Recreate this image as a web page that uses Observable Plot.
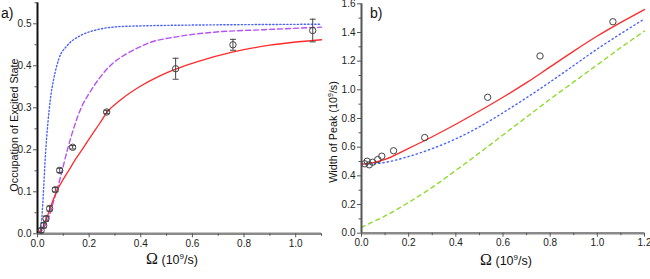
<!DOCTYPE html>
<html>
<head>
<meta charset="utf-8">
<script src="https://cdn.jsdelivr.net/npm/d3@7"></script>
<script src="https://cdn.jsdelivr.net/npm/@observablehq/plot@0.6"></script>
<style>
  html, body { margin: 0; padding: 0; background: #fff; }
  #wrap { display: flex; width: 650px; height: 279px; }
  svg { display: block; }
</style>
</head>
<body>
<div id="wrap"></div>
<script>
// ---- measured points (Omega in 10^9/s) ----
const omega       = [0.014, 0.024, 0.033, 0.047, 0.069, 0.086, 0.136, 0.268, 0.535, 0.757, 1.066];
const occupation  = [0.008, 0.020, 0.036, 0.060, 0.105, 0.151, 0.206, 0.290, 0.393, 0.450, 0.484];
const occErr      = [0.005, 0.006, 0.006, 0.006, 0.005, 0.005, 0.004, 0.004, 0.025, 0.013, 0.027];
const peakWidth   = [0.484, 0.502, 0.477, 0.495, 0.514, 0.537, 0.575, 0.667, 0.948, 1.236, 1.475];

// ---- panel a curves ----
const aRedX    = [0, 0.02, 0.04, 0.06, 0.08, 0.10, 0.12, 0.15, 0.18, 0.21, 0.24, 0.27, 0.32, 0.40, 0.47, 0.535, 0.62, 0.75, 0.90, 1.10];
const aRedY    = [0, 0.015, 0.045, 0.080, 0.108, 0.130, 0.150, 0.180, 0.207, 0.235, 0.262, 0.290, 0.318, 0.352, 0.375, 0.392, 0.410, 0.432, 0.449, 0.462];
const aPurpleX = [0.005, 0.018, 0.044, 0.063, 0.089, 0.115, 0.147, 0.173, 0.199, 0.238, 0.29, 0.335, 0.386, 0.438, 0.528, 0.683, 0.877, 1.10];
const aPurpleY = [0, 0.008, 0.040, 0.079, 0.135, 0.198, 0.264, 0.305, 0.333, 0.369, 0.405, 0.425, 0.442, 0.456, 0.468, 0.480, 0.486, 0.492];
const aBlueX   = [0.009, 0.018, 0.024, 0.031, 0.040, 0.050, 0.063, 0.083, 0.115, 0.167, 0.231, 0.309, 0.40, 0.60, 0.80, 1.10];
const aBlueY   = [0, 0.048, 0.111, 0.190, 0.262, 0.321, 0.369, 0.417, 0.448, 0.472, 0.486, 0.493, 0.495, 0.497, 0.498, 0.499];

// ---- panel b curves ----
const bCurveX = [0, 0.05, 0.1, 0.2, 0.3, 0.4, 0.5, 0.6, 0.7, 0.8, 0.9, 1.0, 1.1, 1.2];
const bRedY   = [0.480, 0.492, 0.515, 0.592, 0.673, 0.760, 0.852, 0.948, 1.050, 1.160, 1.270, 1.375, 1.470, 1.560];
const bBlueY  = [0.485, 0.484, 0.494, 0.535, 0.590, 0.658, 0.742, 0.840, 0.945, 1.055, 1.170, 1.285, 1.392, 1.495];
const bGreenY = [0.040, 0.080, 0.120, 0.215, 0.320, 0.438, 0.560, 0.685, 0.810, 0.935, 1.055, 1.175, 1.295, 1.410];

// ---- tick labels ----
const aXTicks = [0, 0.2, 0.4, 0.6, 0.8, 1.0];
const aXMinor = [0.1, 0.3, 0.5, 0.7, 0.9, 1.1];
const aYTicks = [0, 0.1, 0.2, 0.3, 0.4, 0.5];
const aYMinor = [0.05, 0.15, 0.25, 0.35, 0.45, 0.55];
const bXTicks = [0, 0.2, 0.4, 0.6, 0.8, 1.0, 1.2];
const bXMinor = [0.1, 0.3, 0.5, 0.7, 0.9, 1.1];
const bYTicks = [0, 0.2, 0.4, 0.6, 0.8, 1.0, 1.2, 1.4, 1.6];
const bYMinor = [0.1, 0.3, 0.5, 0.7, 0.9, 1.1, 1.3, 1.5];

const pts = (xs, ys) => xs.map((x, i) => ({x, y: ys[i]}));
const fmt = d3.format(".1f");
const blank = () => "";

const capSymbol = {
  draw(context, size) {
    const w = Math.sqrt(size / Math.PI);
    context.moveTo(-w, 0);
    context.lineTo(w, 0);
  }
};

const font = "'Liberation Sans', Arial, sans-serif";
const tickCol = "#555";

function axes(xT, xM, yT, yM, yLineColor) {
  return [
    Plot.ruleY([0], {stroke: "#8a8a8a", strokeWidth: 2.4}),
    Plot.ruleX([0], {stroke: yLineColor, strokeWidth: 2}),
    Plot.axisX({ticks: xT, tickSize: 4, tickPadding: 2, tickFormat: fmt, label: null, stroke: tickCol, fill: "#222"}),
    Plot.axisX({ticks: xM, tickSize: 2.5, tickFormat: blank, label: null, stroke: tickCol}),
    Plot.axisY({ticks: yT, tickSize: 4, tickPadding: 2, tickFormat: fmt, label: null, stroke: tickCol, fill: "#222"}),
    Plot.axisY({ticks: yM, tickSize: 2.5, tickFormat: blank, label: null, stroke: tickCol})
  ];
}

const pointData = omega.map((x, i) => ({x, y: occupation[i], lo: occupation[i] - occErr[i], hi: occupation[i] + occErr[i]}));
const widthData = omega.map((x, i) => ({x, y: peakWidth[i]}));

const plotA = Plot.plot({
  width: 325, height: 279,
  marginLeft: 37, marginRight: 4, marginTop: 2.3, marginBottom: 45.7,
  x: {domain: [0, 1.1]},
  y: {domain: [0, 0.55]},
  style: {fontFamily: font, fontSize: "10px", background: "white", overflow: "visible"},
  marks: [
    Plot.line(pts(aBlueX, aBlueY), {x: "x", y: "y", stroke: "#4a63ff", strokeWidth: 1.4, strokeDasharray: "1.3,2.2", curve: "monotone-x"}),
    Plot.line(pts(aPurpleX, aPurpleY), {x: "x", y: "y", stroke: "#b552f5", strokeWidth: 1.4, strokeDasharray: "5,3", curve: "monotone-x"}),
    Plot.line(pts(aRedX, aRedY), {x: "x", y: "y", stroke: "#ff2a2a", strokeWidth: 1.3, curve: "monotone-x"}),
    ...axes(aXTicks, aXMinor, aYTicks, aYMinor, "#111"),
    Plot.ruleX(pointData, {x: "x", y1: "lo", y2: "hi", stroke: "#444", strokeWidth: 1}),
    Plot.dot(pointData, {x: "x", y: "lo", symbol: capSymbol, r: 3, stroke: "#444", strokeWidth: 1}),
    Plot.dot(pointData, {x: "x", y: "hi", symbol: capSymbol, r: 3, stroke: "#444", strokeWidth: 1}),
    Plot.dot(pointData, {x: "x", y: "y", r: 3.2, stroke: "#444", strokeWidth: 1, fill: "none"})
  ]
});

const plotB = Plot.plot({
  width: 325, height: 279,
  marginLeft: 36, marginRight: 6, marginTop: 3.3, marginBottom: 46.3,
  x: {domain: [0, 1.2]},
  y: {domain: [0, 1.6]},
  style: {fontFamily: font, fontSize: "10px", background: "white", overflow: "visible"},
  marks: [
    Plot.line(pts(bCurveX, bGreenY), {x: "x", y: "y", stroke: "#8fdc2c", strokeWidth: 1.4, strokeDasharray: "4,4", curve: "monotone-x"}),
    Plot.line(pts(bCurveX, bBlueY), {x: "x", y: "y", stroke: "#4a63ff", strokeWidth: 1.4, strokeDasharray: "1.3,3", curve: "monotone-x"}),
    Plot.line(pts(bCurveX, bRedY), {x: "x", y: "y", stroke: "#ff2a2a", strokeWidth: 1.3, curve: "monotone-x"}),
    ...axes(bXTicks, bXMinor, bYTicks, bYMinor, "#555"),
    Plot.dot(widthData, {x: "x", y: "y", r: 3.2, stroke: "#444", strokeWidth: 1, fill: "none"})
  ]
});

function addText(svg, x, y, parts, opts = {}) {
  const t = d3.select(svg).append("text")
    .attr("x", x).attr("y", y)
    .attr("fill", "#111")
    .attr("text-anchor", opts.anchor || "start")
    .attr("font-family", font);
  if (opts.rotate) t.attr("transform", `rotate(-90 ${x} ${y})`);
  for (const p of parts) {
    const s = t.append("tspan").text(p.text).attr("font-size", p.size);
    if (p.family) s.attr("font-family", p.family);
    if (p.dy) s.attr("dy", p.dy);
  }
  return t;
}

function xLabel(svg, cx, y) {
  addText(svg, cx, y, [
    {text: "Ω", size: 16, family: "'Liberation Serif', 'DejaVu Serif', serif"},
    {text: " (10", size: 12.5},
    {text: "9", size: 8, dy: -5},
    {text: "/s)", size: 12.5, dy: 5}
  ], {anchor: "middle"});
}

// panel a texts
addText(plotA, 1, 18, [{text: "a)", size: 14}]);
addText(plotA, 17.5, 125, [{text: "Occupation of Excited State", size: 10.8}], {anchor: "middle", rotate: true});
xLabel(plotA, 172, 264);

// panel b texts
addText(plotB, 45, 18, [{text: "b)", size: 14}]);
addText(plotB, 12, 132, [
  {text: "Width of Peak (10", size: 10.8},
  {text: "9", size: 7, dy: -4},
  {text: "/s)", size: 10.8, dy: 4}
], {anchor: "middle", rotate: true});
xLabel(plotB, 181, 265);

document.getElementById("wrap").append(plotA, plotB);
</script>
</body>
</html>
